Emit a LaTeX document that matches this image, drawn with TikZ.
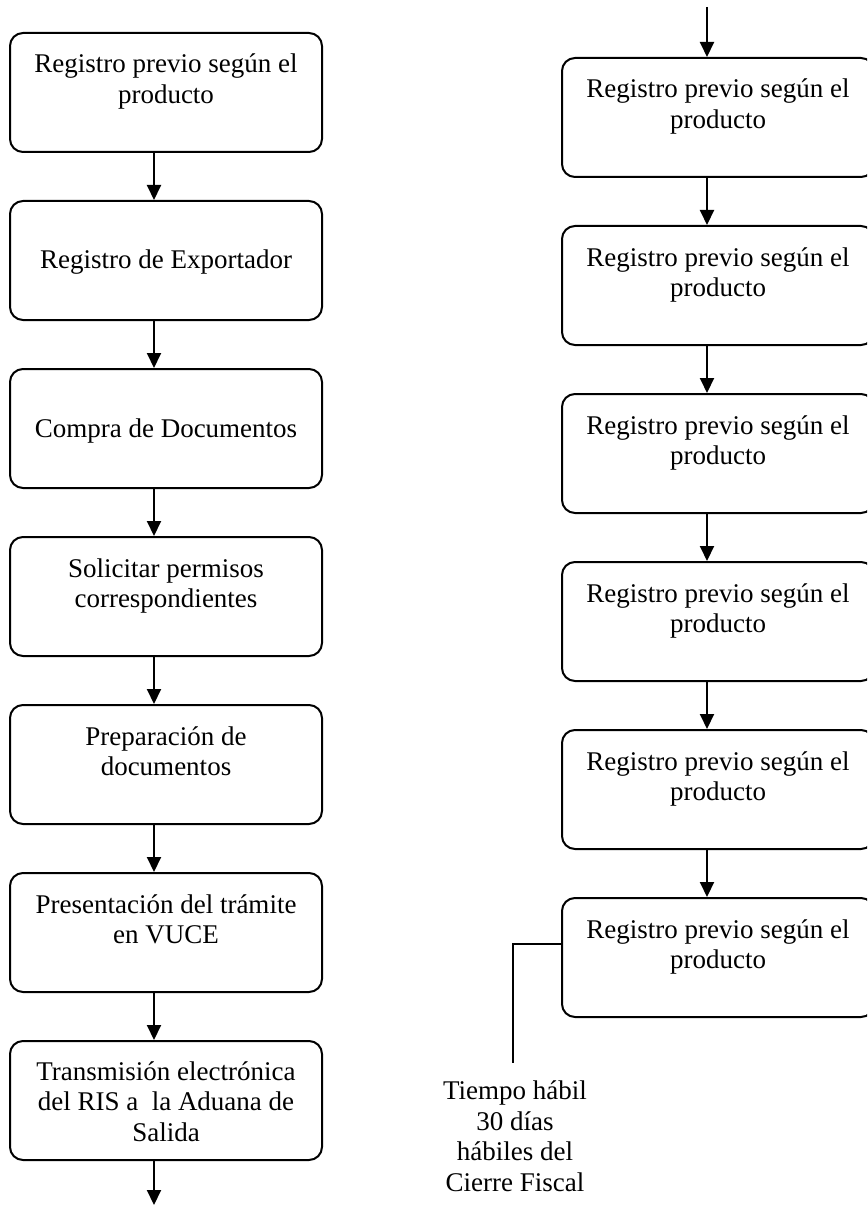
\documentclass[tikz,border=0pt]{standalone}
\usepackage{fontspec}
\setmainfont{Liberation Serif}
\usetikzlibrary{arrows.meta,calc}
\begin{document}
\begin{tikzpicture}[x=1pt,y=-1pt,
  box/.style={draw, line width=2pt, rounded corners=13pt, minimum width=312pt, minimum height=119pt, inner sep=0pt},
  txt/.style={align=center, font=\fontsize{27}{30.5}\selectfont, inner sep=0pt, anchor=base},
  arr/.style={line width=2pt, -{Triangle[length=15pt,width=14pt]}},
  notel/.style={line width=1.5pt}]
\useasboundingbox (0,0) rectangle (867,1206);
\clip (0,0) rectangle (867,1206);
% left column
\node[box] (L1) at (166,92.5) {};
\node[box] (L2) at (166,260.5) {};
\node[box] (L3) at (166,428.5) {};
\node[box] (L4) at (166,596.5) {};
\node[box] (L5) at (166,764.5) {};
\node[box] (L6) at (166,932.5) {};
\node[box] (L7) at (166,1100.5) {};
% base anchor of a multi-line node = baseline of its last line
\node[txt] (L1t) at ($(L1.north)+(0,71.5)$) {Registro previo según el\\producto};
\node[txt] (L2t) at ($(L2.north)+(0,69)$) {Registro de Exportador};
\node[txt] (L3t) at ($(L3.north)+(0,69)$) {Compra de Documentos};
\node[txt] (L4t) at ($(L4.north)+(0,71.5)$) {Solicitar permisos\\correspondientes};
\node[txt] (L5t) at ($(L5.north)+(0,71.5)$) {Preparación de\\documentos};
\node[txt] (L6t) at ($(L6.north)+(0,71.5)$) {Presentación del trámite\\en VUCE};
\node[txt] (L7t) at ($(L7.north)+(0,101)$) {Transmisión electrónica\\del RIS a\ \ la Aduana de\\Salida};
\draw[arr] ([xshift=-12pt]L1.south) -- ([xshift=-12pt]L2.north);
\draw[arr] ([xshift=-12pt]L2.south) -- ([xshift=-12pt]L3.north);
\draw[arr] ([xshift=-12pt]L3.south) -- ([xshift=-12pt]L4.north);
\draw[arr] ([xshift=-12pt]L4.south) -- ([xshift=-12pt]L5.north);
\draw[arr] ([xshift=-12pt]L5.south) -- ([xshift=-12pt]L6.north);
\draw[arr] ([xshift=-12pt]L6.south) -- ([xshift=-12pt]L7.north);
\coordinate (Lout) at (154,1205);
\draw[arr] ([xshift=-12pt]L7.south) -- (Lout);
% right column
\node[box] (R1) at (718,117.5) {};
\node[box] (R2) at (718,285.5) {};
\node[box] (R3) at (718,453.5) {};
\node[box] (R4) at (718,621.5) {};
\node[box] (R5) at (718,789.5) {};
\node[box] (R6) at (718,957.5) {};
\foreach \n in {R1,R2,R3,R4,R5,R6}
  \node[txt] (\n t) at ($(\n.north)+(0,71.5)$) {Registro previo según el\\producto};
\coordinate (Rin) at (707,7);
\draw[arr] (Rin) -- ([xshift=-11pt]R1.north);
\draw[arr] ([xshift=-11pt]R1.south) -- ([xshift=-11pt]R2.north);
\draw[arr] ([xshift=-11pt]R2.south) -- ([xshift=-11pt]R3.north);
\draw[arr] ([xshift=-11pt]R3.south) -- ([xshift=-11pt]R4.north);
\draw[arr] ([xshift=-11pt]R4.south) -- ([xshift=-11pt]R5.north);
\draw[arr] ([xshift=-11pt]R5.south) -- ([xshift=-11pt]R6.north);
% annotation
\coordinate (nk) at (513,1063);
\draw[notel] ([yshift=13.5pt]R6.west) -| (nk);
\node[txt] (note) at (515,1191) {Tiempo hábil\\30 días\\hábiles del\\Cierre Fiscal};
\end{tikzpicture}
\end{document}
